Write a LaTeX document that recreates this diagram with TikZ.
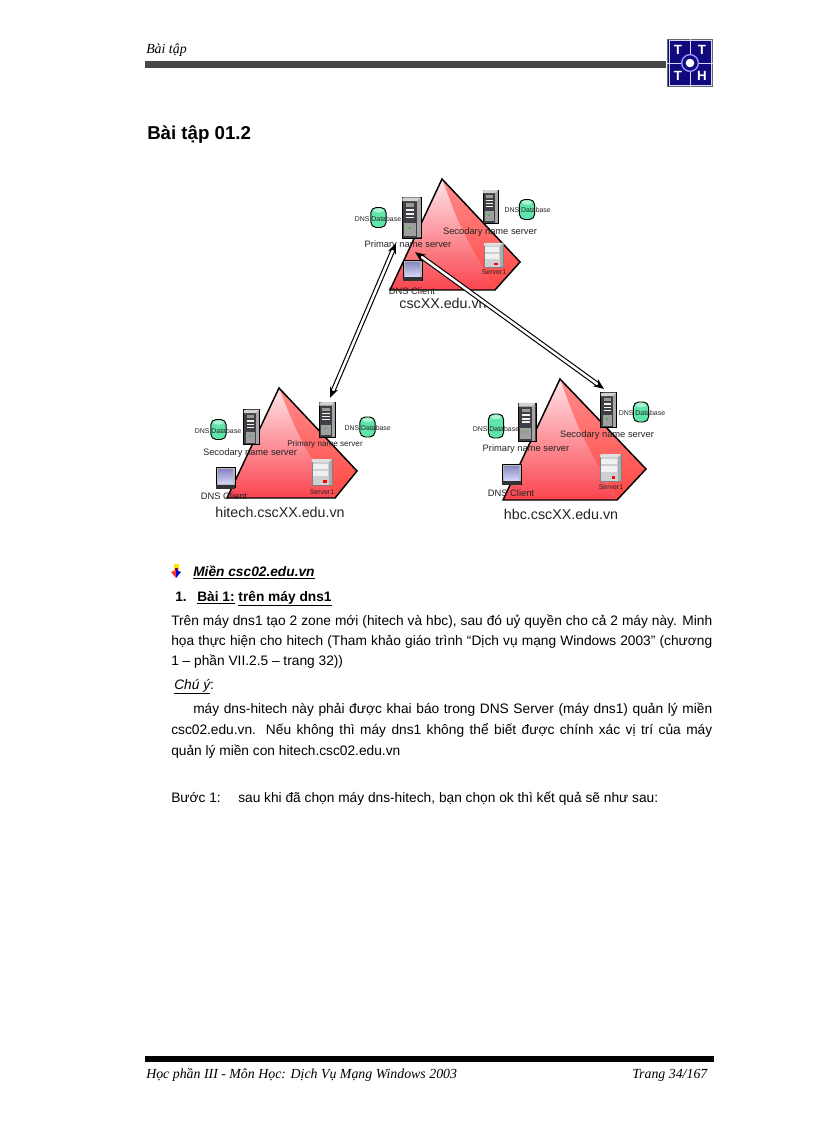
\documentclass[tikz,border=0pt]{standalone}
\usepackage{fontspec}
\setmainfont{Liberation Sans}
\newfontfamily\timesfont{Liberation Serif}
\usepackage{xcolor}
\usetikzlibrary{arrows.meta,positioning,shapes,calc}
\definecolor{darkblue}{RGB}{16,10,125}
\definecolor{dbgreen}{RGB}{95,228,170}
\definecolor{towerdark}{RGB}{62,64,68}
\definecolor{boxgray}{RGB}{205,207,210}
\definecolor{screenblue}{RGB}{170,170,240}
\definecolor{labelgray}{RGB}{35,35,35}
\definecolor{zonepale}{RGB}{255,228,232}
\definecolor{zonered}{RGB}{250,68,78}
\definecolor{zonemid}{RGB}{255,140,140}
\definecolor{zonedeep}{RGB}{255,72,68}
\tikzset{
    dbbody/.style={rectangle, rounded corners=4pt, draw=black, line width=0.7pt, fill=dbgreen,
        inner sep=0pt, minimum width=11.5pt, minimum height=#1},
    dbbody/.default=15pt,
    towerbody/.style={rectangle, draw=black, line width=0.4pt, fill=towerdark, inner sep=0pt,
        minimum width=12pt, minimum height=26pt, transform shape},
    boxbody/.style={rectangle, draw=gray, line width=0.3pt, fill=boxgray, inner sep=0pt,
        minimum width=15pt, minimum height=19pt, transform shape},
    laptopbody/.style={rectangle, draw=black, line width=0.4pt, fill=gray!55, inner sep=0pt,
        minimum width=14pt, minimum height=15pt, transform shape},
    tinylabel/.style={inner sep=0pt, text=labelgray, font=\fontsize{5.2}{6}\selectfont},
    namelabel/.style={inner sep=0pt, text=labelgray, font=\fontsize{7}{8}\selectfont},
    zonelabel/.style={inner sep=0pt, text=labelgray, font=\fontsize{10.7}{12}\selectfont},
    logoletter/.style={inner sep=0pt, text=white, font=\bfseries\fontsize{10}{11}\selectfont},
    bodytext/.style={anchor=base west, inner sep=0pt, font=\fontsize{10.3}{12}\selectfont},
    pagetext/.style={anchor=base west, inner sep=0pt, font=\timesfont\itshape\fontsize{10.4}{12}\selectfont},
    linkarrow/.style={draw=black, line width=0.85pt, double=white, double distance=1.9pt,
        {Stealth[length=8pt,width=6.5pt]}-{Stealth[length=8pt,width=6.5pt]}},
}
% zone: apex at the origin
\newcommand{\zoneshape}[5]{
    \shade[top color=zonepale, bottom color=zonered]
        (0,0) .. controls (#3*0.35,#4*0.45) .. (#3,#4) -- (#5,#4) -- cycle;
    \shade[top color=zonemid, bottom color=zonedeep]
        (0,0) -- (#1,#2) -- (#3,#4) .. controls (#3*0.35,#4*0.45) .. (0,0) -- cycle;
    \draw[line width=1.1pt, line join=miter] (0,0) -- (#1,#2) -- (#3,#4) -- (#5,#4) -- cycle;
}
\newcommand{\dbicon}[4][15pt]{
    \node[dbbody=#1] (#2) at (#3,#4) {};
    \fill[dbgreen!50!white] ([shift={(0,3.5)}]#2.north) ellipse [x radius=5.5,y radius=2.2];
}
\newcommand{\towericon}[4]{
    \begin{scope}[shift={(#2,#3)}, scale=#4]
        \node[towerbody] (#1) at (0,0) {};
        \fill[gray!70] (4.5,-17) rectangle (7.7,17);
        \fill[gray!35] (-7.7,-17) -- (-5,-17.3) -- (7.7,-17.3) -- (4.5,-14) -- (-7.7,-14) -- cycle;
        \fill[white!90!gray] (-5,-7) rectangle (2.5,-5.5);
        \fill[white!90!gray] (-5,-3.5) rectangle (2.5,-2.2);
        \fill[white!90!gray] (-5,-0.5) rectangle (2.5,0.8);
        \fill[gray!80] (-5,-12) rectangle (2.5,-9);
        \fill[gray!75] (-6,5) rectangle (3.5,15.5);
        \fill[green!80!black] (-1.5,9) circle (0.9);
    \end{scope}
}
\newcommand{\servericon}[4]{
    \begin{scope}[shift={(#2,#3)}, scale=#4]
        \node[boxbody] (#1) at (0,0) {};
        \fill[gray!65] (7,-12.5) rectangle (10,12.5);
        \fill[gray!25] (-10,-12.5) -- (-7,-12.7) -- (10,-12.7) -- (7,-10) -- (-10,-10) -- cycle;
        \fill[gray!12] (-9,-8) rectangle (6,-3);
        \fill[gray!12] (-9,-1) rectangle (6,4);
        \fill[red] (1,8) rectangle (4.5,10.5);
    \end{scope}
}
\newcommand{\laptopicon}[3]{
    \begin{scope}[shift={(#2,#3)}]
        \node[laptopbody] (#1) at (0,-1) {};
        \shade[top color=screenblue!80!black, bottom color=screenblue!50!white] (-7.5,-9) rectangle (7.5,5);
        \fill[black!80] (-9.5,6) rectangle (9.5,10);
    \end{scope}
}
\begin{document}
\begin{tikzpicture}[x=0.75pt,y=-0.75pt]
    \useasboundingbox (0,0) rectangle (816,1123);
    % Header
    \node[pagetext] (pageHead) at (146,54) {Bài tập};
    \fill[black!72] (145,61) rectangle (666,68);
    % Logo
    \node[rectangle, draw=black!60, line width=0.8pt, fill=darkblue, inner sep=0pt,
        minimum width=33.5pt, minimum height=35.5pt] (logoBox) at (690,63) {};
    \draw[white!85!blue, line width=0.5pt] (logoBox.north) -- (logoBox.south);
    \draw[white!85!blue, line width=0.5pt] (logoBox.west) -- (logoBox.east);
    \draw[white!85!blue, line width=0.5pt] ([shift={(2,2)}]logoBox.north west) rectangle ([shift={(-2,-2)}]logoBox.south east);
    \node[circle, draw=blue!40!white, line width=1pt, fill=darkblue, inner sep=0pt, minimum size=12.5pt] (logoRing) at (logoBox.center) {};
    \node[circle, fill=white, inner sep=0pt, minimum size=6.5pt] (logoDot) at (logoBox.center) {};
    \node[logoletter] (logoA) at (678,50) {T};
    \node[logoletter] (logoB) at (702,50) {T};
    \node[logoletter] (logoC) at (678,76) {T};
    \node[logoletter] (logoD) at (702,76) {H};
    % Title
    \node[anchor=base west, inner sep=0pt, font=\bfseries\fontsize{14}{16}\selectfont] (pageTitle) at (147,140) {Bài tập 01.2};
    % Zone csc
    \begin{scope}[shift={(442,179)}]
        \zoneshape{78}{83}{53}{111}{-52}
        \dbicon{cscDbLeft}{-63.5}{38.5}
        \dbicon{cscDbRight}{85}{30.5}
        \node[tinylabel] (cscDbLeftText) at (-64,40) {DNS Database};
        \node[tinylabel] (cscDbRightText) at (85.7,31) {DNS Database};
        \towericon{cscPrimary}{-30.5}{38.5}{1.17}
        \towericon{cscSecondary}{48.5}{27.5}{0.95}
        \servericon{cscServer}{51.5}{76}{0.95}
        \laptopicon{cscClient}{-29.5}{92}
        \node[namelabel] (cscPrimaryText) at (-34,66) {Primary name server};
        \node[namelabel] (cscSecondaryText) at (48,53) {Secodary name server};
        \node[tinylabel] (cscServerText) at (52,93) {Server1};
        \node[namelabel] (cscClientText) at (-30,111.7) {DNS Client};
        \node[zonelabel] (cscName) at (1,124) {cscXX.edu.vn};
    \end{scope}
    % Zone hitech
    \begin{scope}[shift={(279,388)}]
        \zoneshape{78}{83}{56}{110}{-52}
        \dbicon{hitechDbLeft}{-60.5}{41.5}
        \dbicon{hitechDbRight}{88.5}{39}
        \node[tinylabel] (hitechDbLeftText) at (-61,43) {DNS Database};
        \node[tinylabel] (hitechDbRightText) at (88.7,40) {DNS Database};
        \towericon{hitechSecondary}{-27.5}{39}{1}
        \towericon{hitechPrimary}{48}{31.5}{1}
        \servericon{hitechServer}{43}{84}{1.02}
        \laptopicon{hitechClient}{-53.5}{90.5}
        \node[namelabel] (hitechSecondaryText) at (-29,65) {Secodary name server};
        \node[inner sep=0pt, text=labelgray, font=\fontsize{6.1}{7}\selectfont] (hitechPrimaryText) at (46,56) {Primary name server};
        \node[tinylabel] (hitechServerText) at (43,104) {Server1};
        \node[namelabel] (hitechClientText) at (-55,108) {DNS Client};
        \node[zonelabel] (hitechName) at (1,124) {hitech.cscXX.edu.vn};
    \end{scope}
    % Zone hbc
    \begin{scope}[shift={(560,379)}]
        \zoneshape{86}{90}{57}{121}{-57}
        \dbicon[18pt]{hbcDbLeft}{-64}{47}
        \dbicon{hbcDbRight}{81}{33}
        \node[tinylabel] (hbcDbLeftText) at (-64,50) {DNS Database};
        \node[tinylabel] (hbcDbRightText) at (82,34) {DNS Database};
        \towericon{hbcPrimary}{-33}{43}{1.1}
        \towericon{hbcSecondary}{48.5}{31}{1}
        \servericon{hbcServer}{50.5}{88.5}{1.05}
        \laptopicon{hbcClient}{-48.5}{96}
        \node[namelabel] (hbcPrimaryText) at (-34,70) {Primary name server};
        \node[namelabel] (hbcSecondaryText) at (47,56) {Secodary name server};
        \node[tinylabel] (hbcServerText) at (51,108) {Server1};
        \node[namelabel] (hbcClientText) at (-49,114) {DNS Client};
        \node[zonelabel] (hbcName) at (1,135) {hbc.cscXX.edu.vn};
    \end{scope}
    % Links between name servers
    \draw[linkarrow] ([shift={(-15.5,5)}]cscPrimary.south) -- ([shift={(3,-4)}]hitechPrimary.north);
    \draw[linkarrow] ([shift={(3.5,14)}]cscPrimary.south) -- ([shift={(-4.5,-3.5)}]hbcSecondary.north);
    % Bullet
    \fill[yellow!90!orange] (174,564) rectangle (178.5,571);
    \fill[violet] (175,568) rectangle (177.5,575);
    \fill[red!80!white] (171,572) -- (176,570) -- (176,578) -- cycle;
    \fill[blue!80!black] (181,572) -- (176,570) -- (176,578) -- cycle;
    % Text
    \node[bodytext, font=\bfseries\itshape\fontsize{10.3}{12}\selectfont] (domainHead) at (193,576) {\underline{Miền csc02.edu.vn}};
    \node[bodytext, font=\bfseries\fontsize{10.3}{12}\selectfont] (exNumber) at (175,601) {1.};
    \node[bodytext, font=\bfseries\fontsize{10.3}{12}\selectfont] (exHead) at (197,601) {\underline{Bài 1:} \underline{trên máy dns1}};
    \node[bodytext] (lineA) at (171,625) {\makebox[405.75pt][s]{Trên máy dns1 tạo 2 zone mới (hitech và hbc), sau đó uỷ quyền cho cả 2 máy này. Minh}};
    \node[bodytext] (lineB) at (171,645) {\makebox[405.75pt][s]{họa thực hiện cho hitech (Tham khảo giáo trình “Dịch vụ mạng Windows 2003” (chương}};
    \node[bodytext] (lineC) at (171,665) {1 – phần VII.2.5 – trang 32))};
    \node[bodytext] (noteHead) at (174,689) {\underline{\itshape Chú ý}:};
    \node[bodytext] (lineD) at (193,713) {\makebox[389.25pt][s]{máy dns-hitech này phải được khai báo trong DNS Server (máy dns1) quản lý miền}};
    \node[bodytext] (lineE) at (171,734) {\makebox[405.75pt][s]{csc02.edu.vn. Nếu không thì máy dns1 không thể biết được chính xác vị trí của máy}};
    \node[bodytext] (lineF) at (171,755) {quản lý miền con hitech.csc02.edu.vn};
    \node[bodytext] (stepHead) at (171,802) {Bước 1:};
    \node[bodytext] (stepText) at (238,802) {sau khi đã chọn máy dns-hitech, bạn chọn ok thì kết quả sẽ như sau:};
    % Footer
    \fill[black] (145,1056) rectangle (714,1062);
    \node[pagetext] (footLeft) at (146,1078) {Học phần III - Môn Học: Dịch Vụ Mạng Windows 2003};
    \node[pagetext] (footRight) at (632,1078) {Trang 34/167};
\end{tikzpicture}
\end{document}
